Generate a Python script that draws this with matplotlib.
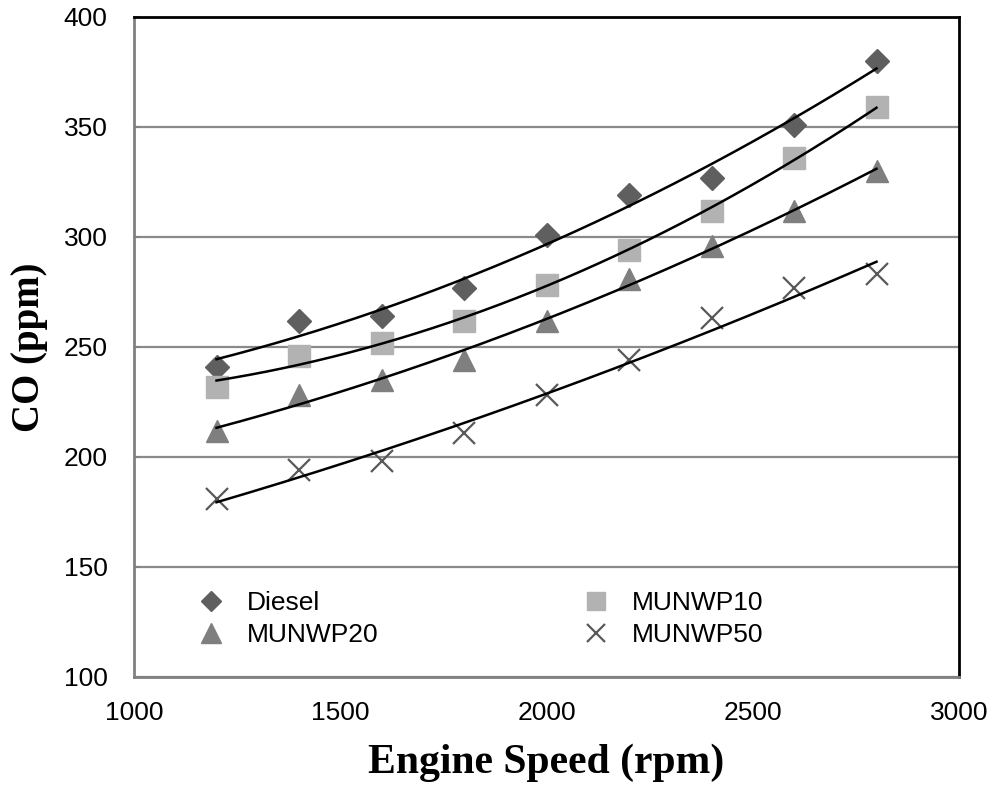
import numpy as np
import matplotlib
matplotlib.use("Agg")
import matplotlib.pyplot as plt

# ---- data ----
speed = [1200, 1400, 1600, 1800, 2000, 2200, 2400, 2600, 2800]
diesel = [241, 262, 264, 277, 301, 319, 327, 351, 380]
munwp10 = [232, 246, 252, 262, 278, 294, 312, 336, 359]
munwp20 = [212, 228, 235, 244, 262, 281, 296, 312, 330]
munwp50 = [181, 194, 198, 211, 228, 244, 263, 277, 283]

series_names = ["Diesel", "MUNWP10", "MUNWP20", "MUNWP50"]
xticks = [1000, 1500, 2000, 2500, 3000]
yticks = [100, 150, 200, 250, 300, 350, 400]

fig = plt.figure(figsize=(9.96, 7.87), dpi=100)
ax = fig.add_axes([134/996, 1-677/787, 825/996, 660/787])

styles = {
    "Diesel": dict(marker="D", ms=12, color="#5f5f5f", mec="#5f5f5f"),
    "MUNWP10": dict(marker="s", ms=15.5, color="#b2b2b2", mec="#b2b2b2"),
    "MUNWP20": dict(marker="^", ms=16.5, color="#7f7f7f", mec="#7f7f7f"),
    "MUNWP50": dict(marker="x", ms=16, color="#595959", mec="#595959", mew=1.6),
}
data = {"Diesel": diesel, "MUNWP10": munwp10, "MUNWP20": munwp20, "MUNWP50": munwp50}

xs = np.array(speed, dtype=float)
xfit = np.linspace(xs.min(), xs.max(), 200)
handles = {}
for name in series_names:
    ys = np.array(data[name], dtype=float)
    st = styles[name]
    h, = ax.plot(xs, ys, linestyle="none", zorder=3, **st)
    handles[name] = h
    coef = np.polyfit(xs, ys, 2)
    ax.plot(xfit, np.polyval(coef, xfit), color="black", lw=1.8, zorder=4)

ax.set_xlim(1000, 3000)
ax.set_ylim(100, 400)
ax.set_xticks(xticks)
ax.set_yticks(yticks)
ax.yaxis.grid(True, color="#8a8a8a", lw=1.6)
ax.set_axisbelow(True)

tickfont = dict(family=["Liberation Sans", "DejaVu Sans"], size=19)
ax.set_xticklabels([str(t) for t in xticks], fontdict=tickfont)
ax.set_yticklabels([str(t) for t in yticks], fontdict=tickfont)
ax.tick_params(axis="x", length=0, pad=17)
ax.tick_params(axis="y", direction="in", length=4, width=1.2, color="#808080", pad=19)

for s in ["left", "bottom"]:
    ax.spines[s].set_color("#808080")
    ax.spines[s].set_linewidth(2)
for s in ["top", "right"]:
    ax.spines[s].set_color("black")
    ax.spines[s].set_linewidth(2)

labfont = dict(family=["Liberation Serif", "DejaVu Serif"], weight="bold")
fig.text(546.5/996, 1-763/787, "Engine Speed (rpm)", ha="center", va="center",
         size=30, **labfont)
fig.text(29/996, 1-347/787, "CO (ppm)", ha="center", va="center", rotation=90,
         size=28, **labfont)

order = ["Diesel", "MUNWP20", "MUNWP10", "MUNWP50"]
leg = ax.legend([handles[n] for n in order], order, ncol=2, frameon=False,
                loc="center left", bbox_to_anchor=((197.8-134)/825, (677-619)/660),
                borderaxespad=0, borderpad=0, handlelength=1.0, handletextpad=0.86,
                columnspacing=7.76, labelspacing=0.29, markerscale=0.85,
                prop=dict(family=["Liberation Sans", "DejaVu Sans"], size=19))

fig.savefig("out.png", dpi=100)
